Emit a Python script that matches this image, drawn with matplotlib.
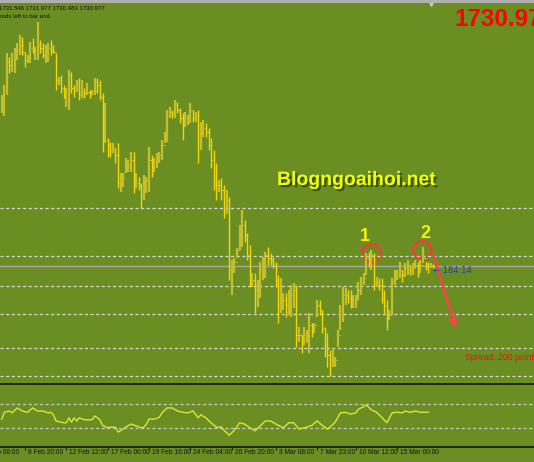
import matplotlib
matplotlib.use('Agg')
import matplotlib.pyplot as plt
import matplotlib.patheffects as pe
from matplotlib.patches import Ellipse, Rectangle
import numpy as np

# XAUUSD H4
highs = [1816.5, 1821.5, 1837.5, 1835.5, 1837.5, 1840, 1842.5, 1846.5, 1845.5, 1838,
         1836.5, 1843, 1845, 1840.5, 1853, 1844, 1842.5, 1841.5, 1842.5, 1844,
         1841.5, 1837.5, 1825.5, 1826.5, 1821.5, 1820, 1829, 1828, 1821.5, 1824,
         1825, 1824, 1820, 1822.5, 1819, 1819, 1825, 1825, 1824, 1817.5,
         1812.5, 1795, 1793, 1792.5, 1790, 1792.5, 1777.5, 1777.5, 1785, 1784,
         1788, 1788, 1777.5, 1775.5, 1772.5, 1776.5, 1775.5, 1790.5, 1786.5, 1785,
         1787.5, 1788, 1794, 1798, 1809, 1810.5, 1809, 1814, 1813, 1810,
         1807.5, 1808, 1806.5, 1812.5, 1809, 1808, 1809, 1803, 1804, 1802.5,
         1800, 1795, 1789, 1782.5, 1774, 1775, 1771.5, 1769, 1765.5, 1734,
         1735, 1740, 1751.5, 1759, 1754, 1747.5, 1741.5, 1727.5, 1727.5, 1724,
         1733, 1735.5, 1738, 1740.5, 1737.5, 1735.5, 1733, 1726.5, 1725, 1717.5,
         1717.5, 1719, 1721.5, 1722.5, 1721.5, 1700.5, 1696.5, 1700.5, 1699, 1707.5,
         1702.5, 1702.5, 1714, 1714, 1709, 1700.5, 1697.5, 1689, 1690, 1685.5,
         1699, 1711.5, 1720.5, 1720, 1719, 1719, 1716.5, 1716.5, 1723, 1725.5,
         1727.5, 1737.5, 1738, 1739, 1737.5, 1725.5, 1725, 1725, 1719, 1714,
         1709, 1725, 1729, 1729, 1733, 1729, 1732.5, 1734, 1731.5, 1732.5,
         1734, 1733, 1734, 1740.5, 1733, 1733, 1732.5, 1732]
lows = [1807.5, 1806, 1816.5, 1827.5, 1828, 1827.5, 1834, 1836.5, 1836.5, 1830.5,
        1832.5, 1832.5, 1837.5, 1834, 1834, 1837.5, 1835, 1832.5, 1833, 1836.5,
        1837.5, 1819, 1821.5, 1817.5, 1815, 1810.5, 1809, 1817.5, 1815.5, 1818,
        1814, 1815, 1815, 1816.5, 1815, 1816.5, 1816.5, 1817.5, 1814, 1788,
        1792.5, 1785.5, 1785.5, 1787.5, 1782.5, 1770, 1768, 1770.5, 1777.5, 1778,
        1778, 1767.5, 1770, 1769, 1760, 1764, 1767.5, 1768, 1775.5, 1778,
        1780, 1782.5, 1784, 1792.5, 1793, 1805, 1805, 1805, 1807.5, 1802.5,
        1794, 1800.5, 1801.5, 1802.5, 1803, 1803, 1782.5, 1789, 1795.5, 1795.5,
        1789, 1780, 1769, 1764, 1768, 1764, 1755, 1757, 1724, 1716.5,
        1727.5, 1735, 1739, 1740.5, 1743, 1734, 1720.5, 1720.5, 1707.5, 1710.5,
        1715, 1724, 1725, 1731.5, 1731.5, 1730, 1720.5, 1702.5, 1707.5, 1709,
        1705.5, 1706.5, 1705.5, 1710, 1690.5, 1693, 1687.5, 1691.5, 1692.5, 1687.5,
        1695.5, 1697.5, 1705.5, 1706.5, 1697.5, 1685.5, 1680.5, 1676, 1680.5, 1680.5,
        1690.5, 1699, 1703, 1711.5, 1712.5, 1710, 1710, 1710, 1714, 1716.5,
        1721.5, 1726.5, 1730.5, 1729, 1719, 1720.5, 1719, 1712.5, 1707.5, 1699,
        1704, 1706.5, 1721.5, 1724, 1725, 1723, 1725.5, 1726.5, 1726.5, 1726.5,
        1730, 1725.5, 1727.5, 1732.5, 1729, 1727.5, 1730, 1730]
closes = [1814, 1819, 1833, 1831.5, 1834, 1836.5, 1839, 1841.5, 1838, 1834,
          1835, 1840, 1839, 1839, 1841.5, 1840, 1836.5, 1839, 1840, 1839,
          1838, 1824, 1824, 1820, 1816.5, 1819, 1826.5, 1820, 1819, 1821.5,
          1816.5, 1818, 1817.5, 1818, 1817.5, 1818, 1823, 1821.5, 1815.5, 1794,
          1794, 1791.5, 1789, 1790, 1786.5, 1772.5, 1774, 1775, 1781.5, 1781.5,
          1784, 1771.5, 1772.5, 1771.5, 1766.5, 1771.5, 1774, 1784, 1781.5, 1783,
          1785, 1786.5, 1791.5, 1796.5, 1806.5, 1808, 1807.5, 1811.5, 1809, 1805,
          1804, 1805, 1805, 1809, 1805, 1806.5, 1794, 1799, 1800, 1798,
          1791.5, 1784, 1775, 1771.5, 1771.5, 1769, 1759, 1764, 1729, 1730,
          1733, 1739, 1749, 1751.5, 1746.5, 1736.5, 1724, 1724, 1719, 1721.5,
          1729, 1733, 1736.5, 1735, 1734, 1731.5, 1724, 1711.5, 1714, 1714,
          1711.5, 1714, 1716.5, 1719, 1696.5, 1696.5, 1694, 1696.5, 1696.5, 1701.5,
          1699, 1701.5, 1711.5, 1709, 1700, 1691.5, 1686.5, 1684, 1684, 1684,
          1696.5, 1709, 1716.5, 1716.5, 1715, 1714, 1714, 1714, 1719, 1723,
          1725, 1735, 1734, 1736.5, 1721.5, 1723, 1721.5, 1715, 1711.5, 1706.5,
          1706.5, 1723, 1726.5, 1726.5, 1729, 1726.5, 1730, 1731.5, 1729, 1730,
          1731.5, 1730, 1731.5, 1735, 1731.5, 1731, 1731, 1730.977]
first_open = 1810.0

# RSI sub window (bar index, value)
rsi_idx = [0, 1, 3, 4, 6, 8, 10, 12, 14, 16, 18, 19, 20, 21, 23, 24, 25, 26, 27, 28,
           29, 30, 32, 33, 35, 36, 38, 39, 41, 42, 44, 45, 47, 48, 50, 52, 54, 55, 56, 57,
           59, 61, 62, 64, 66, 68, 70, 72, 74, 76, 77, 79, 81, 83, 85, 86, 88, 90, 92, 94,
           96, 98, 100, 102, 104, 107, 109, 111, 113, 115, 118, 120, 122, 124, 126, 127, 129, 131, 133, 135,
           137, 138, 140, 141, 143, 145, 147, 149, 151, 153, 155, 156, 158, 160, 162, 163, 165]
rsi_val = [45, 56, 58, 55, 63, 58, 56, 63, 58, 58, 55, 56, 52, 42, 40, 39, 39, 47, 40, 47,
           42, 47, 44, 44, 44, 50, 44, 35, 31, 32, 32, 24, 29, 32, 37, 34, 31, 32, 37, 45,
           45, 48, 55, 63, 63, 58, 56, 55, 58, 47, 52, 47, 39, 32, 32, 27, 19, 27, 39, 37,
           31, 26, 34, 42, 42, 35, 31, 39, 39, 29, 32, 35, 42, 35, 29, 32, 40, 55, 56, 53,
           55, 61, 65, 68, 60, 56, 48, 39, 55, 56, 55, 58, 56, 58, 56, 56, 56]
rsi_levels = [70, 30]

levels = [1760, 1736, 1721, 1707, 1690, 1676]
bid = 1730.977
ohlc_text = "1731.546 1731.977 1730.483 1730.977"

tick_idx = [-8, 9, 25, 41, 57, 73, 89, 106, 122, 137, 153]
tick_labels = ['8 Feb 08:00', '9 Feb 20:00', '12 Feb 12:00', '17 Feb 00:00', '19 Feb 16:00',
               '24 Feb 04:00', '26 Feb 20:00', '3 Mar 08:00', '7 Mar 23:00', '10 Mar 12:00',
               '15 Mar 00:00']

# the two tops and the expected drop
peaks = [143, 163]
arrow_from = (167, 1736.5)
arrow_to = (175.7, 1700)

W, H = 534, 462
BG = '#6b8e23'
STEP = 2.585  # px per bar
X0 = -1.7 / STEP
X1 = X0 + W / STEP


def fy(py):
    return 1 - py / H


plt.rcParams['font.family'] = ['Liberation Sans', 'DejaVu Sans']
fig = plt.figure(figsize=(W / 100, H / 100), dpi=100, facecolor=BG)

ax = fig.add_axes([0, fy(382), 1, (382 - 3) / H])
ax.set_xlim(X0, X1)
ax.set_ylim(1673, 1862.5)
ax.set_axis_off()

highs = np.array(highs)
lows = np.array(lows)
closes = np.array(closes)
opens = np.r_[first_open, closes[:-1]]
idx = np.arange(len(closes))
up = closes >= opens

for lv in levels:
    ax.axhline(lv, color='#d6d6d6', lw=0.9, ls=(0, (2.5, 2)))
ax.axhline(bid, color='#a8a8a8', lw=1)

UP, DN = '#c4bd2c', '#f2d60a'
ax.vlines(idx[up], lows[up], highs[up], colors=UP, lw=1.6)
ax.vlines(idx[~up], lows[~up], highs[~up], colors=DN, lw=1.0)
cols = np.where(up, UP, DN)
ax.hlines(opens, idx - 0.45, idx, colors=cols, lw=0.8)
ax.hlines(closes, idx, idx + 0.45, colors=cols, lw=0.8)

for k, p in enumerate(peaks):
    cx = p - 0.3 if k else p
    ax.add_patch(Ellipse((cx, highs[p] - 1.6), 9 * 2 / STEP, 9, fill=False,
                         ec='#ff3535', lw=1.6))
    ax.text(cx + (-2.5 if k == 0 else 1.2), highs[p] + 6.5, str(k + 1),
            color='#f4f20c', fontsize=13, fontweight='bold', ha='center', va='center')

ax.annotate('', xy=arrow_to, xytext=arrow_from,
            arrowprops=dict(arrowstyle='-|>', color='#f04848', lw=2,
                            mutation_scale=12, shrinkA=0, shrinkB=0))
ax.text(len(closes) - 1, bid - 2.3, '\u2190 184:14', color='#2a3cb8', fontsize=6,
        va='center', ha='left', family=['DejaVu Sans'])

ax.text(106.5, 1771.5, 'Blogngoaihoi.net', color='#eeff10', fontsize=14,
        fontweight='bold', va='baseline', ha='left',
        path_effects=[pe.withSimplePatchShadow(offset=(1.5, -1.5),
                                                shadow_rgbFace='#34480c', alpha=0.9)])

# RSI window
rax = fig.add_axes([0, fy(447), 1, (447 - 385) / H])
rax.set_xlim(X0, X1)
rax.set_ylim(0, 100)
rax.set_axis_off()
for lv in rsi_levels:
    rax.axhline(lv, color='#c8c8c8', lw=0.9, ls=(0, (2.5, 2)))
rax.plot(rsi_idx, rsi_val, color='#dce43a', lw=1)
rax.vlines(tick_idx, -5, 0, colors='#1c2410', lw=0.8, clip_on=False)
for t, lab in zip(tick_idx, tick_labels):
    rax.text(t + 1.1, -9.5, lab, fontsize=4.8, color='#101010', va='center',
             ha='left', clip_on=False)

# frame pieces of the terminal window
fig.add_artist(Rectangle((0, fy(2.5)), 1, 2.5 / H, transform=fig.transFigure,
                         color='#b0b0b0', lw=0))
fig.add_artist(Rectangle((0, fy(385)), 1, 2.5 / H, transform=fig.transFigure,
                         color='#1e2a0c', lw=0))
fig.add_artist(Rectangle((0, fy(447.5)), 1, 1.2 / H, transform=fig.transFigure,
                         color='#1e2a0c', lw=0))
ax.plot([len(closes) - 2], [1.0], marker='v', ms=4, color='#c8c8c8',
        transform=ax.get_xaxis_transform(), clip_on=False)

fig.text(-1 / W, fy(8), ohlc_text, fontsize=4.3, color='#101010', va='center', ha='left')
fig.text(50 / W, fy(16), 'Seconds left to bar end', fontsize=4.3, color='#101010',
         va='center', ha='right')
fig.text(455 / W, fy(8), '1730.977', fontsize=17.5, fontweight='bold',
         color='#ff0000', va='top', ha='left')
fig.text(465 / W, fy(358), 'Spread: 200 points', fontsize=6.3, color='#e01818',
         va='center', ha='left')

fig.savefig('out.png', dpi=100, facecolor=BG)
